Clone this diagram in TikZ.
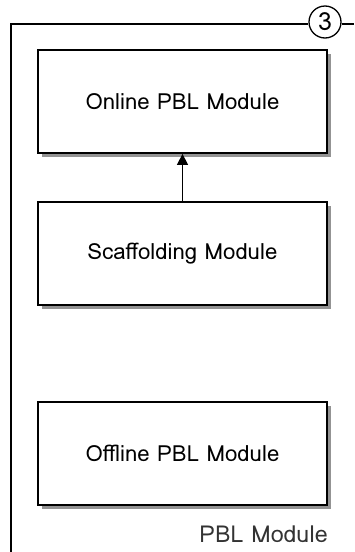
\documentclass[tikz,border=0pt]{standalone}
\usepackage{fontspec}
\setmainfont{Loma}
\usetikzlibrary{shadows,arrows.meta}

\tikzset{
    modbox/.style={draw, line width=1.8, fill=white, minimum width=289, minimum height=103,
        font=\fontsize{22.2}{25}\selectfont,
        drop shadow={shadow xshift=4pt, shadow yshift=-4pt, fill=gray!85, opacity=1}},
}

\begin{document}
\begin{tikzpicture}[x=1pt, y=-1pt]
    \useasboundingbox (0, 0) rectangle (354, 552) ;

    % frame of the PBL module
    \node[draw, circle, line width=1.3, minimum size=32, inner sep=0, font=\fontsize{25}{28}\selectfont] (num) at (325, 22) {3} ;
    \coordinate (fbot) at (11, 552) ;
    \coordinate (fright) at (354, 24) ;
    \draw[line width=1.4] (fbot) -- (11, 24) -- (num.west |- 0, 24) ;
    \draw[line width=1.4] (num.east |- 0, 24) -- (fright) ;

    \node[modbox] (online) at (182.5, 101.5) {Online PBL Module} ;
    \node[modbox] (scaff) at (182.5, 253.5) {Scaffolding Module} ;
    \node[modbox] (offline) at (182.5, 453.5) {Offline PBL Module} ;

    \draw[line width=1.4, -{Triangle[length=11pt, width=11pt]}] (scaff) -- (online) ;

    \node[anchor=east, inner sep=2, font=\fontsize{23.3}{26}\selectfont, text=black!80] (pbl) at (330, 534) {PBL Module} ;
\end{tikzpicture}
\end{document}
